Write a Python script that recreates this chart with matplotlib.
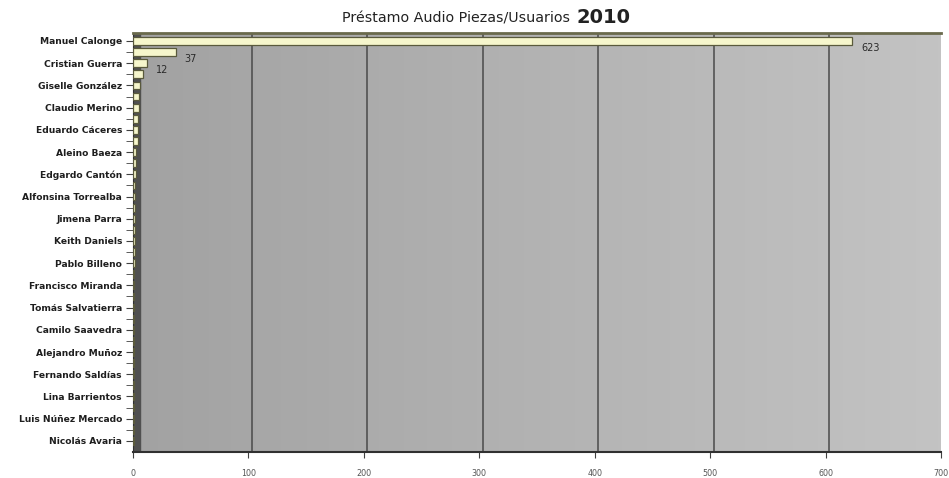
import matplotlib.pyplot as plt
import numpy as np
from matplotlib.colors import LinearSegmentedColormap

# nombres visibles (uno de cada dos en el eje)
shown_names = ['Manuel Calonge', 'Cristian Guerra', 'Giselle González', 'Claudio Merino',
               'Eduardo Cáceres', 'Aleino Baeza', 'Edgardo Cantón', 'Alfonsina Torrealba',
               'Jimena Parra', 'Keith Daniels', 'Pablo Billeno', 'Francisco Miranda',
               'Tomás Salvatierra', 'Camilo Saavedra', 'Alejandro Muñoz', 'Fernando Saldías',
               'Lina Barrientos', 'Luis Núñez Mercado', 'Nicolás Avaria']

# préstamos por usuario, de arriba hacia abajo
loans = [623, 37, 12, 9, 6, 5, 5, 4, 4, 4, 3, 3, 3, 2, 2, 2, 2, 2, 2, 2,
         2, 1, 1, 1, 1, 1, 1, 1, 1, 1, 1, 1, 1, 1, 1, 1, 1]
labelled = [0, 1, 2]  # barras con etiqueta de valor

x_ticks = [0, 100, 200, 300, 400, 500, 600, 700]

plt.rcParams['font.family'] = ['DejaVu Sans']

fig = plt.figure(figsize=(9.49, 4.78), dpi=100)
ax = fig.add_axes([133 / 949, 1 - 452 / 478, 808 / 949, 419 / 478])

n = len(loans)
y = np.arange(n)
ax.set_xlim(0, 700)
ax.set_ylim(n, -0.72)

# fondo gris degradado
cmap = LinearSegmentedColormap.from_list('wall', ['#a2a2a2', '#c3c3c3'])
grad = np.linspace(0, 1, 256).reshape(1, -1)
ax.imshow(grad, cmap=cmap, extent=[0, 700, n, -0.72], aspect='auto', zorder=0)

# pared lateral oscura
ax.axvspan(0, 6, color='#505050', zorder=1)

for xv in x_ticks[1:-1]:
    ax.axvline(xv + 3, color='#4a4a4a', lw=1.1, zorder=1)

ax.barh(y, loans, height=0.7, color='#f6f6cc', edgecolor='#5a5a3c', lw=0.9, zorder=3)

for i in labelled:
    ax.annotate(str(loans[i]), (loans[i], y[i]), xytext=(9, -7), textcoords='offset pixels',
                fontsize=7, color='#2a2a2a', va='center', ha='left', zorder=4)

ax.set_yticks(y[::2])
ax.set_yticklabels(shown_names, fontsize=6.6, fontweight='bold', color='#1e1e1e')
ax.set_yticks(y, minor=True)
ax.tick_params(axis='y', which='both', length=5, color='#404040', pad=3)
ax.set_xticks(x_ticks)
ax.set_xticklabels([str(v) for v in x_ticks], fontsize=5.8, color='#555555')
ax.tick_params(axis='x', length=4, color='#404040', pad=8)

ax.spines['right'].set_visible(False)
ax.spines['top'].set_color('#6a6a4c')
ax.spines['top'].set_linewidth(2)
ax.spines['left'].set_color('#303030')
ax.spines['bottom'].set_color('#303030')
ax.spines['bottom'].set_linewidth(1.5)

fig.text(574 / 949, 1 - 23 / 478, 'Préstamo Audio Piezas/Usuarios ', ha='right',
         va='baseline', fontsize=10.3, color='#222222')
fig.text(576 / 949, 1 - 23 / 478, '2010', ha='left', va='baseline',
         fontsize=14, fontweight='bold', color='#222222')

fig.savefig('out.png', dpi=100)
